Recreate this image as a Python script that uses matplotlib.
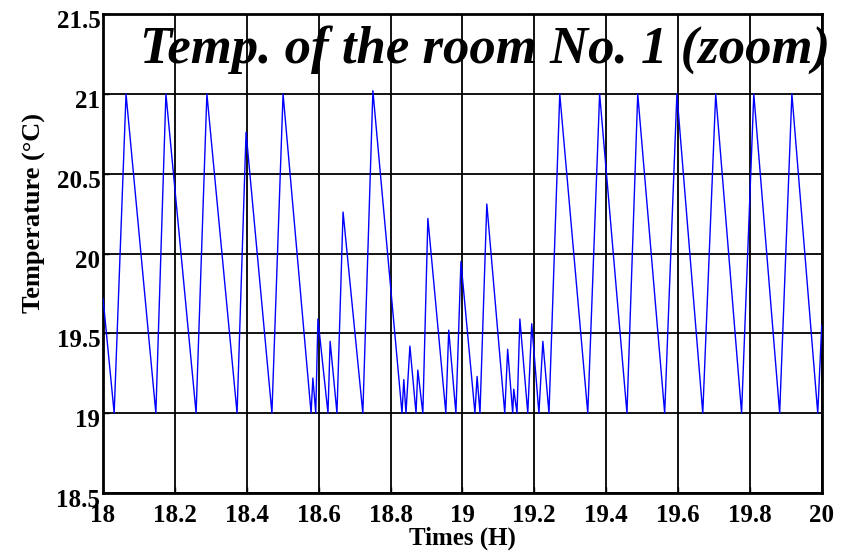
import matplotlib
matplotlib.use("Agg")
import matplotlib.pyplot as plt
import matplotlib.transforms as mtransforms
import numpy as np

# turning points of the room temperature (hours, deg C)
times = [18.000, 18.031, 18.064, 18.147, 18.175, 18.259, 18.289, 18.373, 18.398, 18.470,
         18.501, 18.579, 18.584, 18.592, 18.598, 18.626, 18.632, 18.651, 18.668, 18.723,
         18.751, 18.832, 18.837, 18.843, 18.854, 18.871, 18.876, 18.890, 18.904, 18.954,
         18.962, 18.982, 18.996, 19.035, 19.041, 19.049, 19.068, 19.118, 19.126, 19.140,
         19.143, 19.152, 19.160, 19.182, 19.193, 19.213, 19.224, 19.241, 19.271, 19.349,
         19.382, 19.458, 19.488, 19.563, 19.597, 19.669, 19.705, 19.777, 19.811, 19.883,
         19.917, 19.989, 20.000]
temps = [19.72, 19.00, 21.00, 19.00, 21.00, 19.00, 21.00, 19.00, 20.76, 19.00,
         21.00, 19.00, 19.22, 19.00, 19.59, 19.00, 19.45, 19.00, 20.26, 19.00,
         21.02, 19.00, 19.21, 19.00, 19.42, 19.00, 19.27, 19.00, 20.22, 19.00,
         19.52, 19.00, 19.95, 19.00, 19.23, 19.00, 20.31, 19.00, 19.40, 19.00,
         19.15, 19.00, 19.59, 19.00, 19.56, 19.00, 19.45, 19.00, 21.00, 19.00,
         21.00, 19.00, 21.00, 19.00, 21.00, 19.00, 21.00, 19.00, 21.00, 19.00,
         21.00, 19.00, 19.55]

xticks = [18, 18.2, 18.4, 18.6, 18.8, 19, 19.2, 19.4, 19.6, 19.8, 20]
xtick_labels = ["18", "18.2", "18.4", "18.6", "18.8", "19", "19.2", "19.4", "19.6", "19.8", "20"]
yticks = [18.5, 19, 19.5, 20, 20.5, 21, 21.5]
ytick_labels = ["18.5", "19", "19.5", "20", "20.5", "21", "21.5"]

plt.rcParams['font.family'] = ['Liberation Serif', 'DejaVu Serif']
plt.rcParams['font.weight'] = 'bold'

fig = plt.figure(figsize=(8.48, 5.53), dpi=100)
ax = fig.add_axes([0.1215, 0.1085, 0.8475, 0.866])

ax.plot(times, temps, color='#0000ff', linewidth=1.0, zorder=3)

ax.set_xlim(18, 20)
ax.set_ylim(18.5, 21.5)
ax.set_xticks(xticks)
ax.set_xticklabels(xtick_labels, fontsize=18, fontweight='bold')
ax.set_yticks(yticks)
ax.set_yticklabels(ytick_labels, fontsize=18, fontweight='bold')
ax.tick_params(direction='in', length=4, width=1)
ax.tick_params(axis='x', pad=8)
ax.tick_params(axis='y', pad=2)
# y labels sit a little below their ticks in the original
shift = mtransforms.ScaledTranslation(0, -5 / 100, fig.dpi_scale_trans)
for lab in ax.get_yticklabels():
    lab.set_transform(lab.get_transform() + shift)

ax.grid(True, color='black', linewidth=1.3, linestyle='-')
ax.set_axisbelow(True)
for sp in ax.spines.values():
    sp.set_linewidth(2)

ax.set_xlabel("Times (H)", fontsize=18, fontweight='bold')
ax.xaxis.set_label_coords(0.5, -0.094)
ax.xaxis.label.set_va('center')
ax.set_ylabel("Temperature (\u00b0C)", fontsize=19, fontweight='bold')
ax.yaxis.set_label_coords(-0.096, 0.585)
ax.yaxis.label.set_va('center')

ax.text(0.531, 0.925, "Temp. of the room No. 1 (zoom)", transform=ax.transAxes,
        fontsize=38, fontweight='bold', fontstyle='italic', ha='center', va='center',
        clip_on=False, zorder=4)

plt.savefig('out.png', dpi=100)
